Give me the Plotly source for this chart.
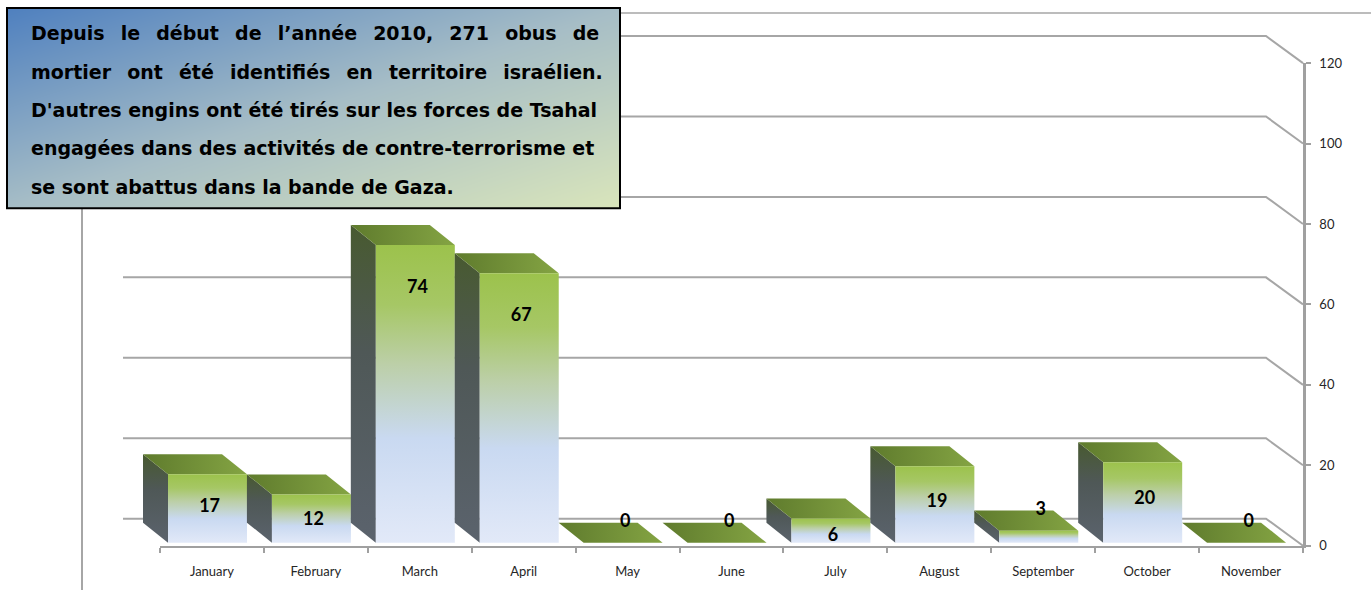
import plotly.graph_objects as go

# ---------------- data ----------------
months = ["January", "February", "March", "April", "May", "June", "July",
          "August", "September", "October", "November"]
values = [17, 12, 74, 67, 0, 0, 6, 19, 3, 20, 0]
y_ticks = [0, 20, 40, 60, 80, 100, 120]
note_lines = [
    "Depuis le début de l’année 2010, 271 obus de",
    "mortier ont été identifiés en territoire israélien.",
    "D'autres engins ont été tirés sur les forces de Tsahal",
    "engagées dans des activités de contre-terrorisme et",
    "se sont abattus dans la bande de Gaza.",
]
# extra spacing inserted in each gap to imitate justified text
note_pad = ["\u2002", "\u2002", "", "", ""]

# ---------------- geometry (screen pixels) ----------------
W, PAGE_H = 1371, 590
OFF = 8          # vertical offset of the figure on the page
S = 0.972        # vertical scale of the figure on the page
H = round((PAGE_H - OFF) / S)   # figure height


def py(y):
    """screen pixel y -> paper fraction"""
    return 1 - ((y - OFF) / S) / H


X0, X1 = 160, 1303      # category axis from / to
Y0, Y1 = 545, 63        # value axis 0 / 120
ncat = len(months)
ymax = y_ticks[-1]
ppu = (X1 - X0) / ncat  # px per category unit
ppv = (Y0 - Y1) / ymax  # px per value unit

bar_off, bar_w = 8 / ppu, 79 / ppu
bar_du, bar_dv = -25 / ppu, 20 / ppv
back_du, back_dv = -37 / ppu, 27 / ppv
base = 3 / ppv

fig = go.Figure()

fig.add_trace(go.Scatter(x=months, y=[0] * ncat, mode="markers",
                         marker=dict(opacity=0), hoverinfo="skip",
                         showlegend=False, xaxis="x", yaxis="y"))

gx, gy = [], []
for v in y_ticks:
    gx += [back_du, ncat + back_du, ncat, None]
    gy += [v + back_dv, v + back_dv, v, None]
fig.add_trace(go.Scatter(x=gx, y=gy, mode="lines",
                         line=dict(color="#a6a6a6", width=2),
                         hoverinfo="skip", showlegend=False,
                         xaxis="x2", yaxis="y2"))

front_scale = [[0, "#e2e9f8"], [0.35, "#c9d9f1"], [0.6, "#bccfa8"],
               [0.8, "#a6c765"], [1, "#9cc24c"]]
side_scale = [[0, "#5b636d"], [0.6, "#4f5857"], [1, "#485a30"]]
top_scale = [[0, "#5f7b2d"], [1, "#84a443"]]

no_line = dict(width=0, color="rgba(0,0,0,0)")
for i, v in enumerate(values):
    xl = i + bar_off
    xr = xl + bar_w
    b, t = base, base + v
    if v > 0:
        fig.add_trace(go.Scatter(
            x=[xl, xl, xl + bar_du, xl + bar_du, xl],
            y=[b, t, t + bar_dv, b + bar_dv, b],
            fill="toself", mode="lines", line=no_line,
            fillgradient=dict(type="vertical", colorscale=side_scale),
            hoverinfo="skip", showlegend=False, xaxis="x2", yaxis="y2"))
    fig.add_trace(go.Scatter(
        x=[xl, xr, xr + bar_du, xl + bar_du, xl],
        y=[t, t, t + bar_dv, t + bar_dv, t],
        fill="toself", mode="lines", line=no_line,
        fillgradient=dict(type="horizontal", colorscale=top_scale),
        hoverinfo="skip", showlegend=False, xaxis="x2", yaxis="y2"))
    if v > 0:
        fig.add_trace(go.Scatter(
            x=[xl, xr, xr, xl, xl],
            y=[b, b, t, t, b],
            fill="toself", mode="lines", line=no_line,
            fillgradient=dict(type="vertical", colorscale=front_scale),
            hoverinfo="skip", showlegend=False, xaxis="x2", yaxis="y2"))


def label_level(v):
    if v <= 3:
        return base + v + bar_dv
    return max(0.65 * v - 1.5, v - 10)


fig.add_trace(go.Scatter(
    x=[i + bar_off + bar_w / 2 + 0.02 for i in range(ncat)],
    y=[label_level(v) for v in values],
    text=[str(v) for v in values], mode="text",
    textfont=dict(family="Lato, Carlito, sans-serif", size=18, color="black",
                  weight="bold"),
    cliponaxis=False, hoverinfo="skip", showlegend=False,
    xaxis="x2", yaxis="y2"))

bx0, by0, bx1, by1 = 7, 8, 620, 208
fig.add_trace(go.Heatmap(z=[[0.5, 1], [0, 0.5]], x=[0, 1], y=[0, 1],
                         zsmooth="best", showscale=False, hoverinfo="skip",
                         colorscale=[[0, "#4f80bf"], [0.5, "#a6bdc6"],
                                     [1, "#d9e5bb"]],
                         xaxis="x3", yaxis="y3"))

axis_col = "#a0a0a0"
tick_font = dict(family="Lato, Carlito, sans-serif", size=13, color="#262626")
fig.update_layout(
    width=W, height=H,
    margin=dict(l=0, r=0, t=0, b=0),
    paper_bgcolor="white", plot_bgcolor="rgba(0,0,0,0)",
    showlegend=False,
    xaxis=dict(type="category", categoryarray=months, range=[-0.5, ncat - 0.5],
               domain=[X0 / W, X1 / W], anchor="y",
               showline=True, linecolor=axis_col, linewidth=2,
               ticks="outside", tickson="boundaries", ticklen=5,
               tickcolor=axis_col, tickwidth=1.5, showgrid=False,
               ticklabelstandoff=13, tickfont=tick_font,
               zeroline=False, fixedrange=True),
    yaxis=dict(range=[0, ymax], domain=[py(Y0), py(Y1)],
               anchor="x", side="right", tickvals=y_ticks,
               showline=True, linecolor=axis_col, linewidth=2.5,
               ticks="outside", ticklen=5, tickcolor=axis_col, tickwidth=1.5,
               showgrid=False, zeroline=False, ticklabelstandoff=6,
               tickfont=tick_font, fixedrange=True),
    xaxis2=dict(range=[-X0 / ppu, (W - X0) / ppu], domain=[0, 1], anchor="y2",
                visible=False, fixedrange=True),
    yaxis2=dict(range=[(Y0 - (OFF + S * H)) / ppv, (Y0 - OFF) / ppv],
                domain=[0, 1], anchor="x2", visible=False, fixedrange=True),
    xaxis3=dict(range=[0, 1], domain=[bx0 / W, bx1 / W], anchor="y3",
                visible=False, fixedrange=True),
    yaxis3=dict(range=[0, 1], domain=[py(by1), py(by0)], anchor="x3",
                visible=False, fixedrange=True),
)

fig.add_shape(type="line", xref="paper", yref="paper",
              x0=bx1 / W, x1=1, y0=py(13), y1=py(13),
              line=dict(color="#a6a6a6", width=1.5))
fig.add_shape(type="line", xref="paper", yref="paper",
              x0=82 / W, x1=82 / W, y0=0, y1=py(by1),
              line=dict(color="#a6a6a6", width=2))
fig.add_shape(type="rect", xref="paper", yref="paper",
              x0=bx0 / W, x1=bx1 / W, y0=py(by1), y1=py(by0),
              line=dict(color="black", width=2), layer="above")

line_y = [33, 72, 110, 148, 187]
for txt, yy, pad in zip(note_lines, line_y, note_pad):
    shown = txt.replace(" ", " " + pad) if pad else txt
    fig.add_annotation(xref="paper", yref="paper", x=29 / W, y=py(yy),
                       xanchor="left", yanchor="middle", showarrow=False,
                       text=shown,
                       font=dict(family="DejaVu Sans, Liberation Sans, sans-serif",
                                 size=19, color="black", weight="bold"))

fig.write_html("out.html", config={"displayModeBar": False},
               post_script="document.body.style.margin='0';"
                           "document.body.style.overflow='hidden';")
